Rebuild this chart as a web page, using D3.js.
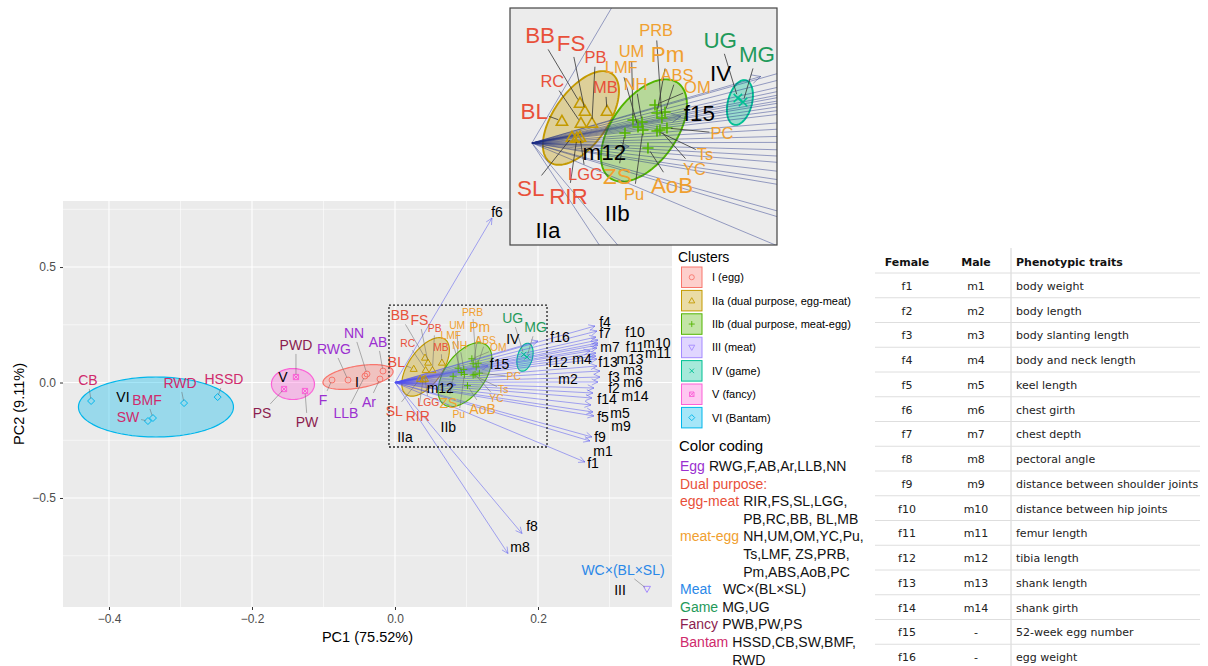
<!DOCTYPE html>
<html>
<head>
<meta charset="utf-8">
<script src="https://cdn.jsdelivr.net/npm/d3@7"></script>
<style>
    body { margin: 0; background: #fff; }
    svg { display: block; font-family: "Liberation Sans", Arial, sans-serif; }
</style>
</head>
<body>
<svg id="chart" width="1208" height="666"></svg>
<script>
// Clusters
const clusterIds = ['I', 'IIa', 'IIb', 'III', 'IV', 'V', 'VI'];
const clusterLegend = ['I (egg)', 'IIa (dual purpose, egg-meat)', 'IIb (dual purpose, meat-egg)',
    'III (meat)', 'IV (game)', 'V (fancy)', 'VI (Bantam)'];
const clusterLabelPC1 = [-0.0531, 0.0140, 0.0746, 0.3147, 0.1648, -0.1566, -0.3804];
const clusterLabelPC2 = [0.0022, -0.2360, -0.1909, -0.9004, 0.1900, 0.0238, -0.0628];

// Breed scores (PC1, PC2) and repelled label positions
const breeds = ['RWG', 'F', 'AB', 'Ar', 'LLB', 'NN',
    'RIR', 'FS', 'SL', 'LGG', 'PB', 'RC', 'BB', 'BL', 'MB',
    'NH', 'UM', 'OM', 'YC', 'Pu', 'Ts', 'LMF', 'ZS', 'PRB', 'Pm', 'ABS', 'AoB', 'PC',
    'WC×(BL×SL)', 'MG', 'UG', 'PWD', 'PW', 'PS', 'HSSD', 'CB', 'SW', 'BMF', 'RWD'];
const breedCluster = ['I', 'I', 'I', 'I', 'I', 'I',
    'IIa', 'IIa', 'IIa', 'IIa', 'IIa', 'IIa', 'IIa', 'IIa', 'IIa',
    'IIb', 'IIb', 'IIb', 'IIb', 'IIb', 'IIb', 'IIb', 'IIb', 'IIb', 'IIb', 'IIb', 'IIb', 'IIb',
    'III', 'IV', 'IV', 'V', 'V', 'V', 'VI', 'VI', 'VI', 'VI', 'VI'];
const breedType = ['egg', 'egg', 'egg', 'egg', 'egg', 'egg',
    'eggMeat', 'eggMeat', 'eggMeat', 'eggMeat', 'eggMeat', 'eggMeat', 'eggMeat', 'eggMeat', 'eggMeat',
    'meatEgg', 'meatEgg', 'meatEgg', 'meatEgg', 'meatEgg', 'meatEgg', 'meatEgg', 'meatEgg', 'meatEgg',
    'meatEgg', 'meatEgg', 'meatEgg', 'meatEgg',
    'meat', 'game', 'game', 'fancy', 'fancy', 'fancy', 'bantam', 'bantam', 'bantam', 'bantam', 'bantam'];
const breedPC1 = [-0.0657, -0.0881, -0.0168, -0.0210, -0.0420, -0.0392,
    0.0393, 0.0463, 0.0350, 0.0420, 0.0524, 0.0428, 0.0420, 0.0262, 0.0656,
    0.0962, 0.0883, 0.1075, 0.1119, 0.0970, 0.1093, 0.0927, 0.0813, 0.1136, 0.1093, 0.1163, 0.1014, 0.1180,
    0.3524, 0.1845, 0.1800, -0.1385, -0.1259, -0.1552, -0.2480, -0.4250, -0.3455, -0.3385, -0.2950];
const breedPC2 = [0.0108, 0.0108, 0.0498, 0.0152, 0.0281, 0.0368,
    0.0135, 0.0865, 0.0162, 0.0162, 0.0541, 0.0541, 0.1081, 0.0595, 0.0865,
    0.0568, 0.0622, 0.1027, 0.0351, 0.0351, 0.0324, 0.0432, 0.0270, 0.0676, 0.0811, 0.0838, -0.0135, 0.0405,
    -0.8939, 0.1108, 0.1216, 0.0238, -0.0368, -0.0281, -0.0630, -0.0800, -0.1667, -0.1537, -0.0890];
const labelPC1 = [-0.0853, -0.1007, -0.0238, -0.0364, -0.0685, -0.0573,
    0.0319, 0.0342, -0.0010, 0.0468, 0.0555, 0.0178, 0.0071, 0.0020, 0.0642,
    0.0906, 0.0870, 0.1446, 0.1420, 0.0892, 0.1513, 0.0780, 0.0746, 0.1085, 0.1185, 0.1268, 0.1225, 0.1660,
    0.3189, 0.1967, 0.1646, -0.1385, -0.1231, -0.1860, -0.2392, -0.4294, -0.3734, -0.3469, -0.3007];
const labelPC2 = [0.1450, -0.0758, 0.1753, -0.0844, -0.1320, 0.2143,
    -0.1433, 0.2700, -0.1233, -0.0855, 0.2325, 0.1680, 0.2904, 0.0870, 0.1510,
    0.1595, 0.2475, 0.1504, -0.0700, -0.1379, -0.0302, 0.2040, -0.0903, 0.3035, 0.2390, 0.1840, -0.1146, 0.0254,
    -0.8117, 0.2390, 0.2785, 0.1623, -0.1710, -0.1320, 0.0152, 0.0108, -0.1494, -0.0758, -0.0022];

// Trait loadings (arrow tips) and label positions
const vecNames = ['f1', 'f2', 'f3', 'f4', 'f5', 'f6', 'f7', 'f8', 'f9', 'f10', 'f11', 'f12', 'f13', 'f14', 'f15', 'f16',
    'm1', 'm2', 'm3', 'm4', 'm5', 'm6', 'm7', 'm8', 'm9', 'm10', 'm11', 'm12', 'm13', 'm14'];
const vecPC1 = [0.2657, 0.2783, 0.2867, 0.2797, 0.2769, 0.1357, 0.2825, 0.1776, 0.2755, 0.2839, 0.2839, 0.2811,
    0.2811, 0.2755, 0.1300, 0.2000,
    0.2727, 0.2867, 0.2825, 0.2727, 0.2741, 0.2839, 0.2811, 0.1580, 0.2783, 0.2839, 0.2825, 0.0850, 0.2825, 0.2769];
const vecPC2 = [-0.3442, -0.0238, 0.0498, 0.2446, -0.1277, 0.7121, 0.2229, -0.6537, -0.2359, 0.1840, 0.1710, 0.1277,
    0.1147, -0.0671, 0.0720, 0.1797,
    -0.2532, 0.0238, 0.0714, 0.1364, -0.0974, 0.0022, 0.1970, -0.7403, -0.1450, 0.1623, 0.1494, -0.0100, 0.1017, -0.0455];
const vecLabelPC1 = [0.2769, 0.3063, 0.3063, 0.2937, 0.2909, 0.1427, 0.2937, 0.1916, 0.2867, 0.3357, 0.3357, 0.2280,
    0.2979, 0.2965, 0.1463, 0.2308,
    0.2909, 0.2420, 0.3329, 0.2615, 0.3147, 0.3329, 0.3007, 0.1748, 0.3161, 0.3664, 0.3678, 0.0633, 0.3287, 0.3357];
const vecLabelPC2 = [-0.3485, -0.0238, 0.0238, 0.2600, -0.1494, 0.7381, 0.2130, -0.6212, -0.2359, 0.2186, 0.1537, 0.0887,
    0.0887, -0.0714, 0.0806, 0.1970,
    -0.2965, 0.0152, 0.0541, 0.1017, -0.1320, 0.0022, 0.1537, -0.7121, -0.1883, 0.1710, 0.1277, -0.0240, 0.1017, -0.0584];

// Confidence ellipses: centre and two semi-axis vectors (PC units)
const ellipseCluster = ['I', 'IIa', 'IIb', 'IV', 'V', 'VI'];
const ellipseCenter = [[-0.0517, 0.0238], [0.0428, 0.0676], [0.0979, 0.0338], [0.1818, 0.1095], [-0.1427, -0.0065], [-0.3343, -0.1060]];
const ellipseAxisA = [[0.0490, 0.0260], [0.0271, 0.1195], [0.0297, 0.1284], [0.0052, 0.0600], [0.0301, 0], [0.1084, 0]];
const ellipseAxisB = [[0.0026, -0.0470], [0.0193, -0.0419], [0.0230, -0.0511], [0.0101, -0.0084], [0, 0.0671], [0, 0.1299]];

// Zoomed region (PC1 min/max, PC2 min/max) and clusters shown in the zoom
const zoomBox = [-0.0084, 0.2126, -0.2792, 0.3355];
const zoomClusters = ['IIa', 'IIb', 'IV'];
const zoomTraitLabels = ['f15', 'm12'];

// Axes
const xTicks = [-0.4, -0.2, 0.0, 0.2];
const xMinor = [-0.3, -0.1, 0.1, 0.3];
const yTicks = [-0.5, 0.0, 0.5];
const yMinor = [-0.75, -0.25, 0.25, 0.75];

// Color coding legend
const codingTypes = ['Egg', 'Dual purpose:', 'egg-meat', 'meat-egg', 'Meat', 'Game', 'Fancy', 'Bantam'];
const codingKeys = ['egg', 'eggMeat', 'eggMeat', 'meatEgg', 'meat', 'game', 'fancy', 'bantam'];
const codingLists = [
    ['RWG,F,AB,Ar,LLB,NN'],
    [],
    ['RIR,FS,SL,LGG,', 'PB,RC,BB, BL,MB'],
    ['NH,UM,OM,YC,Pu,', 'Ts,LMF, ZS,PRB,', 'Pm,ABS,AoB,PC'],
    ['\u00a0\u00a0WC×(BL×SL)'],
    ['MG,UG'],
    ['PWB,PW,PS'],
    ['HSSD,CB,SW,BMF,', 'RWD']
];

// Trait table
const tableFemale = ['f1', 'f2', 'f3', 'f4', 'f5', 'f6', 'f7', 'f8', 'f9', 'f10', 'f11', 'f12', 'f13', 'f14', 'f15', 'f16'];
const tableMale = ['m1', 'm2', 'm3', 'm4', 'm5', 'm6', 'm7', 'm8', 'm9', 'm10', 'm11', 'm12', 'm13', 'm14', '-', '-'];
const tableTraits = ['body weight', 'body length', 'body slanting length', 'body and neck length', 'keel length',
    'chest girth', 'chest depth', 'pectoral angle', 'distance between shoulder joints', 'distance between hip joints',
    'femur length', 'tibia length', 'shank length', 'shank girth', '52-week egg number', 'egg weight'];

// Styles
const clusterColors = ['#F8766D', '#C49A00', '#53B400', '#A58AFF', '#00C094', '#FB61D7', '#00B6EB'];
const clusterShapes = ['circle', 'triangle', 'plus', 'triangleDown', 'cross', 'squareCross', 'diamond'];
const typeColors = {
    egg: '#9b30d0', eggMeat: '#e8503a', meatEgg: '#f0a030', meat: '#2a88e8',
    game: '#1f9a5a', fancy: '#8c1d4f', bantam: '#cf2a6c'
};
const smallLabels = new Set(['PB', 'RC', 'MB', 'LGG', 'PRB', 'UM', 'LMF', 'NH', 'ABS', 'OM', 'PC', 'Ts', 'YC', 'Pu']);

const svg = d3.select('#chart');
const panel = {left: 63, right: 672, top: 201, bottom: 607};
const x = d3.scaleLinear().domain([-0.4643, 0.3874]).range([panel.left, panel.right]);
const y = d3.scaleLinear().domain([-0.972, 0.786]).range([panel.bottom, panel.top]);

const inset = {left: 510, right: 777, top: 8, bottom: 245};
const ix = d3.scaleLinear().domain([-0.0192, 0.2142]).range([inset.left, inset.right]);
const iy = d3.scaleLinear().domain([-0.2757, 0.3649]).range([inset.bottom, inset.top]);

// Draw a ggplot-like point shape
function drawMark(g, shape, cx, cy, s, color, sw) {
    const h = s / 2;
    let d;
    switch (shape) {
        case 'circle':
            g.append('circle').attr('cx', cx).attr('cy', cy).attr('r', h * 0.85)
                .attr('fill', 'none').attr('stroke', color).attr('stroke-width', sw);
            return;
        case 'triangle':
            d = `M${cx},${cy - h}L${cx + h},${cy + h * 0.75}L${cx - h},${cy + h * 0.75}Z`; break;
        case 'triangleDown':
            d = `M${cx},${cy + h}L${cx + h},${cy - h * 0.75}L${cx - h},${cy - h * 0.75}Z`; break;
        case 'plus':
            d = `M${cx - h},${cy}H${cx + h}M${cx},${cy - h}V${cy + h}`; break;
        case 'cross':
            d = `M${cx - h * 0.75},${cy - h * 0.75}L${cx + h * 0.75},${cy + h * 0.75}M${cx + h * 0.75},${cy - h * 0.75}L${cx - h * 0.75},${cy + h * 0.75}`; break;
        case 'squareCross': {
            const q = h * 0.75;
            d = `M${cx - q},${cy - q}H${cx + q}V${cy + q}H${cx - q}ZM${cx - q},${cy - q}L${cx + q},${cy + q}M${cx + q},${cy - q}L${cx - q},${cy + q}`; break;
        }
        case 'diamond':
            d = `M${cx},${cy - h}L${cx + h},${cy}L${cx},${cy + h}L${cx - h},${cy}Z`; break;
    }
    g.append('path').attr('d', d).attr('fill', 'none').attr('stroke', color).attr('stroke-width', sw);
}

// Point where the line from a label box centre to (px,py) leaves the box
function segEnd(bb, px, py) {
    const cx = bb.x + bb.width / 2, cy = bb.y + bb.height / 2;
    const dx = px - cx, dy = py - cy;
    const hw = bb.width / 2 + 1, hh = bb.height / 2 + 1;
    if (Math.abs(dx) <= hw && Math.abs(dy) <= hh) return null;
    const t = Math.min(hw / Math.max(Math.abs(dx), 1e-9), hh / Math.max(Math.abs(dy), 1e-9));
    return [cx + dx * t, cy + dy * t];
}

// Biplot content, drawn for both the main panel and the zoomed inset
function drawBiplot(g, xs, ys, k, opt) {
    const keep = c => !opt.clusters || opt.clusters.includes(c);
    const line = d3.line().curve(d3.curveLinearClosed);
    ellipseCluster.forEach((c, i) => {
        if (!keep(c)) return;
        const ci = clusterIds.indexOf(c);
        const pts = d3.range(120).map(j => {
            const t = j / 120 * 2 * Math.PI;
            return [
                xs(ellipseCenter[i][0] + Math.cos(t) * ellipseAxisA[i][0] + Math.sin(t) * ellipseAxisB[i][0]),
                ys(ellipseCenter[i][1] + Math.cos(t) * ellipseAxisA[i][1] + Math.sin(t) * ellipseAxisB[i][1])
            ];
        });
        g.append('path').attr('d', line(pts))
            .attr('fill', clusterColors[ci]).attr('fill-opacity', 0.35)
            .attr('stroke', clusterColors[ci]).attr('stroke-width', 1.2 * k);
    });

    // Loading arrows
    const x0 = xs(0), y0 = ys(0);
    vecNames.forEach((n, i) => {
        const x1 = xs(vecPC1[i]), y1 = ys(vecPC2[i]);
        const a = Math.atan2(y1 - y0, x1 - x0);
        const hl = opt.head;
        const d = `M${x0},${y0}L${x1},${y1}` +
            `M${x1 - hl * Math.cos(a - 0.45)},${y1 - hl * Math.sin(a - 0.45)}L${x1},${y1}` +
            `L${x1 - hl * Math.cos(a + 0.45)},${y1 - hl * Math.sin(a + 0.45)}`;
        g.append('path').attr('d', d).attr('fill', 'none')
            .attr('stroke', opt.arrowColor).attr('stroke-opacity', opt.arrowOpacity)
            .attr('stroke-width', opt.arrowWidth);
    });

    // Breed points
    breeds.forEach((b, i) => {
        if (!keep(breedCluster[i])) return;
        const ci = clusterIds.indexOf(breedCluster[i]);
        drawMark(g, clusterShapes[ci], xs(breedPC1[i]), ys(breedPC2[i]), 7 * k, clusterColors[ci], k);
    });

    // Breed labels with repel segments
    const segG = g.append('g');
    const txtG = g.append('g');
    breeds.forEach((b, i) => {
        if (!keep(breedCluster[i])) return;
        const t = txtG.append('text')
            .attr('x', xs(labelPC1[i])).attr('y', ys(labelPC2[i])).attr('dy', '0.35em')
            .attr('text-anchor', 'middle')
            .attr('font-size', (smallLabels.has(b) ? 10.3 : 14) * k)
            .attr('fill', typeColors[breedType[i]])
            .text(b);
        const px = xs(breedPC1[i]), py = ys(breedPC2[i]);
        const e = segEnd(t.node().getBBox(), px, py);
        if (!e) return;
        const len = Math.hypot(px - e[0], py - e[1]);
        if (len < 4 * k) return;
        const sh = (len - 2.5 * k) / len;
        segG.append('line')
            .attr('x1', e[0]).attr('y1', e[1])
            .attr('x2', e[0] + (px - e[0]) * sh).attr('y2', e[1] + (py - e[1]) * sh)
            .attr('stroke', opt.segColor).attr('stroke-width', opt.segWidth);
    });

    // Cluster names
    clusterIds.forEach((c, i) => {
        if (!keep(c)) return;
        txtG.append('text')
            .attr('x', xs(clusterLabelPC1[i])).attr('y', ys(clusterLabelPC2[i])).attr('dy', '0.35em')
            .attr('text-anchor', 'middle').attr('font-size', 14 * k).attr('fill', '#000')
            .text(c);
    });

    // Trait labels
    vecNames.forEach((n, i) => {
        if (opt.traitLabels && !opt.traitLabels.includes(n)) return;
        txtG.append('text')
            .attr('x', xs(vecLabelPC1[i])).attr('y', ys(vecLabelPC2[i])).attr('dy', '0.35em')
            .attr('text-anchor', 'middle').attr('font-size', 14 * k).attr('fill', '#000')
            .text(n);
    });
}

// ---------- Main panel ----------
const defs = svg.append('defs');
defs.append('clipPath').attr('id', 'clip-main').append('rect')
    .attr('x', panel.left).attr('y', panel.top)
    .attr('width', panel.right - panel.left).attr('height', panel.bottom - panel.top);
defs.append('clipPath').attr('id', 'clip-inset').append('rect')
    .attr('x', inset.left).attr('y', inset.top)
    .attr('width', inset.right - inset.left).attr('height', inset.bottom - inset.top);

svg.append('rect')
    .attr('x', panel.left).attr('y', panel.top)
    .attr('width', panel.right - panel.left).attr('height', panel.bottom - panel.top)
    .attr('fill', '#ebebeb');

const grid = svg.append('g');
xMinor.forEach(v => grid.append('line').attr('x1', x(v)).attr('x2', x(v))
    .attr('y1', panel.top).attr('y2', panel.bottom).attr('stroke', '#fff').attr('stroke-width', 0.55));
yMinor.forEach(v => grid.append('line').attr('y1', y(v)).attr('y2', y(v))
    .attr('x1', panel.left).attr('x2', panel.right).attr('stroke', '#fff').attr('stroke-width', 0.55));
xTicks.forEach(v => grid.append('line').attr('x1', x(v)).attr('x2', x(v))
    .attr('y1', panel.top).attr('y2', panel.bottom).attr('stroke', '#fff').attr('stroke-width', 1.1));
yTicks.forEach(v => grid.append('line').attr('y1', y(v)).attr('y2', y(v))
    .attr('x1', panel.left).attr('x2', panel.right).attr('stroke', '#fff').attr('stroke-width', 1.1));

const mainG = svg.append('g').attr('clip-path', 'url(#clip-main)');
drawBiplot(mainG, x, y, 1, {
    head: 7, arrowColor: '#5050f0', arrowOpacity: 0.55, arrowWidth: 0.9,
    segColor: '#666', segWidth: 0.5
});

// Zoom box
mainG.append('rect')
    .attr('x', x(zoomBox[0])).attr('y', y(zoomBox[3]))
    .attr('width', x(zoomBox[1]) - x(zoomBox[0])).attr('height', y(zoomBox[2]) - y(zoomBox[3]))
    .attr('fill', 'none').attr('stroke', '#222').attr('stroke-width', 1.3)
    .attr('stroke-dasharray', '2,2');

// Axes
const xAxis = svg.append('g').attr('transform', `translate(0,${panel.bottom})`)
    .call(d3.axisBottom(x).tickValues(xTicks).tickSize(3).tickPadding(4)
        .tickFormat(d => d3.format('.1f')(d).replace('-', '\u2212')));
const yAxis = svg.append('g').attr('transform', `translate(${panel.left},0)`)
    .call(d3.axisLeft(y).tickValues(yTicks).tickSize(3).tickPadding(4)
        .tickFormat(d => d3.format('.1f')(d).replace('-', '\u2212')));
[xAxis, yAxis].forEach(a => {
    a.select('.domain').remove();
    a.selectAll('line').attr('stroke', '#333');
    a.selectAll('text').attr('fill', '#4d4d4d').attr('font-size', 12)
        .attr('font-family', '"Liberation Sans", Arial, sans-serif');
});

svg.append('text').attr('x', (panel.left + panel.right) / 2).attr('y', 642)
    .attr('text-anchor', 'middle').attr('font-size', 14.5).text('PC1 (75.52%)');
svg.append('text').attr('transform', `translate(24,${(panel.top + panel.bottom) / 2}) rotate(-90)`)
    .attr('text-anchor', 'middle').attr('font-size', 14.5).text('PC2 (9.11%)');

// ---------- Inset (zoomed region) ----------
svg.append('rect')
    .attr('x', inset.left).attr('y', inset.top)
    .attr('width', inset.right - inset.left).attr('height', inset.bottom - inset.top)
    .attr('fill', '#ececec');
const insetG = svg.append('g').attr('clip-path', 'url(#clip-inset)');
drawBiplot(insetG, ix, iy, 1.6, {
    head: 10, arrowColor: '#1f2d86', arrowOpacity: 0.55, arrowWidth: 0.8,
    segColor: '#333', segWidth: 0.8,
    clusters: zoomClusters, traitLabels: zoomTraitLabels
});
svg.append('rect')
    .attr('x', inset.left).attr('y', inset.top)
    .attr('width', inset.right - inset.left).attr('height', inset.bottom - inset.top)
    .attr('fill', 'none').attr('stroke', '#444').attr('stroke-width', 1.2);

// ---------- Cluster legend ----------
const leg = svg.append('g');
leg.append('text').attr('x', 678).attr('y', 262).attr('font-size', 14).text('Clusters');
clusterIds.forEach((c, i) => {
    const ky = 267 + i * 23.4;
    leg.append('rect').attr('x', 681.5).attr('y', ky).attr('width', 20.5).attr('height', 20.5)
        .attr('fill', clusterColors[i]).attr('fill-opacity', 0.35)
        .attr('stroke', clusterColors[i]).attr('stroke-width', 1);
    drawMark(leg, clusterShapes[i], 691.75, ky + 10.25, 6, clusterColors[i], 0.9);
    leg.append('text').attr('x', 712).attr('y', ky + 10.25).attr('dy', '0.35em')
        .attr('font-size', 11).text(clusterLegend[i]);
});

// ---------- Color coding ----------
const cod = svg.append('g');
cod.append('text').attr('x', 679).attr('y', 446).attr('dy', '0.35em').attr('font-size', 15).text('Color coding');
let lineIdx = 0;
codingTypes.forEach((t, i) => {
    const ly = 466 + lineIdx * 17.6;
    const tt = cod.append('text').attr('x', 680).attr('y', ly).attr('dy', '0.35em')
        .attr('font-size', 14).attr('fill', typeColors[codingKeys[i]]).text(t);
    const lx = 680 + tt.node().getComputedTextLength() + 4;
    codingLists[i].forEach((s, j) => {
        cod.append('text').attr('x', lx).attr('y', ly + j * 17.6).attr('dy', '0.35em')
            .attr('font-size', 14).attr('fill', '#111').text(s);
    });
    lineIdx += Math.max(1, codingLists[i].length);
});

// ---------- Trait table ----------
const tab = svg.append('g').attr('font-family', '"DejaVu Sans", Verdana, sans-serif').attr('font-size', 11).attr('fill', '#222');
const rowH = 24.75;
tab.append('line').attr('x1', 1011).attr('x2', 1011).attr('y1', 248).attr('y2', 666)
    .attr('stroke', '#d4d4d4').attr('stroke-width', 1);
for (let i = 0; i <= tableFemale.length; i++) {
    tab.append('line').attr('x1', 875).attr('x2', 1200)
        .attr('y1', 273 + i * rowH).attr('y2', 273 + i * rowH)
        .attr('stroke', '#dedede').attr('stroke-width', 1);
}
[['Female', 907, 'middle'], ['Male', 976, 'middle'], ['Phenotypic traits', 1016, 'start']].forEach(h => {
    tab.append('text').attr('x', h[1]).attr('y', 262).attr('dy', '0.35em')
        .attr('text-anchor', h[2]).attr('font-weight', 'bold').attr('fill', '#111').text(h[0]);
});
tableFemale.forEach((f, i) => {
    const ry = 286 + i * rowH;
    tab.append('text').attr('x', 907).attr('y', ry).attr('dy', '0.35em').attr('text-anchor', 'middle').text(f);
    tab.append('text').attr('x', 976).attr('y', ry).attr('dy', '0.35em').attr('text-anchor', 'middle').text(tableMale[i]);
    tab.append('text').attr('x', 1016).attr('y', ry).attr('dy', '0.35em').text(tableTraits[i]);
});
</script>
</body>
</html>
